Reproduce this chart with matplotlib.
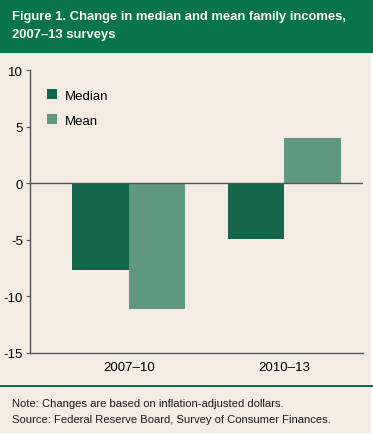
import numpy as np
import matplotlib.pyplot as plt
from matplotlib.patches import Rectangle

plt.rcParams['axes.unicode_minus'] = False

periods = ['2007\u201310', '2010\u201313']
median = [-7.7, -4.9]
mean = [-11.1, 4.0]
yticks = [-15, -10, -5, 0, 5, 10]

bg = '#f4ece2'
header_green = '#08744b'
median_color = '#13664a'
mean_color = '#5f977f'
font = ['Liberation Sans Narrow', 'Liberation Sans', 'DejaVu Sans']

W, H = 373, 435
fig = plt.figure(figsize=(W / 100, H / 100), dpi=100)
fig.patch.set_facecolor('white')

# beige panel and green header band
fig.patches.append(Rectangle((0, 1 - 434 / H), 371 / W, 434 / H,
                             transform=fig.transFigure, facecolor=bg,
                             edgecolor='none', zorder=-2))
fig.patches.append(Rectangle((0, 1 - 54 / H), 1, 53 / H,
                             transform=fig.transFigure, facecolor=header_green,
                             edgecolor='none', zorder=-1))
fig.patches.append(Rectangle((0, 1 - 388 / H), 1, 1.6 / H,
                             transform=fig.transFigure, facecolor=header_green,
                             edgecolor='none', zorder=-1))

fig.text(12 / W, 1 - 17 / H, 'Figure 1. Change in median and mean family incomes,',
         color='white', fontsize=9.4, fontweight='bold', family=font, va='center')
fig.text(12 / W, 1 - 35 / H, '2007\u201313 surveys',
         color='white', fontsize=9.4, fontweight='bold', family=font, va='center')

fig.text(12 / W, 1 - 404 / H, 'Note: Changes are based on inflation-adjusted dollars.',
         fontsize=8.1, family=font, va='center', color='#1a1a1a')
fig.text(12 / W, 1 - 420 / H, 'Source: Federal Reserve Board, Survey of Consumer Finances.',
         fontsize=8.1, family=font, va='center', color='#1a1a1a')

# axes: left x=30, right x=363, top y=71 (10), bottom y=354 (-15)
ax = fig.add_axes([30 / W, 1 - 354 / H, 333 / W, 283 / H])
ax.set_facecolor('none')
ax.set_zorder(2)

x = np.arange(len(periods))
w = 0.364
ax.bar(x - w / 2, median, w, color=median_color, label='Median', zorder=2)
ax.bar(x + w / 2, mean, w, color=mean_color, label='Mean', zorder=2)

ax.set_xlim(-0.637, 1.507)
ax.set_ylim(-15, 10)
ax.set_yticks(yticks)
ax.set_xticks(x)
ax.set_xticklabels(periods)
ax.axhline(0, color='#555555', lw=1, zorder=3)

for s in ['top', 'right']:
    ax.spines[s].set_visible(False)
for s in ['left', 'bottom']:
    ax.spines[s].set_color('#555555')
    ax.spines[s].set_linewidth(1)
ax.tick_params(axis='y', length=3, width=0.8, color='#555555', pad=2, labelsize=9.5)
ax.tick_params(axis='x', length=0, pad=6, labelsize=9.5)
for lab in ax.get_xticklabels() + ax.get_yticklabels():
    lab.set_family(font)

leg = ax.legend(loc='upper left', bbox_to_anchor=(0.015, 0.975), frameon=False,
                handlelength=0.8, handleheight=0.8, labelspacing=0.95,
                handletextpad=0.55, prop={'family': font, 'size': 9.5})

fig.savefig('out.png', dpi=100, facecolor='white')
